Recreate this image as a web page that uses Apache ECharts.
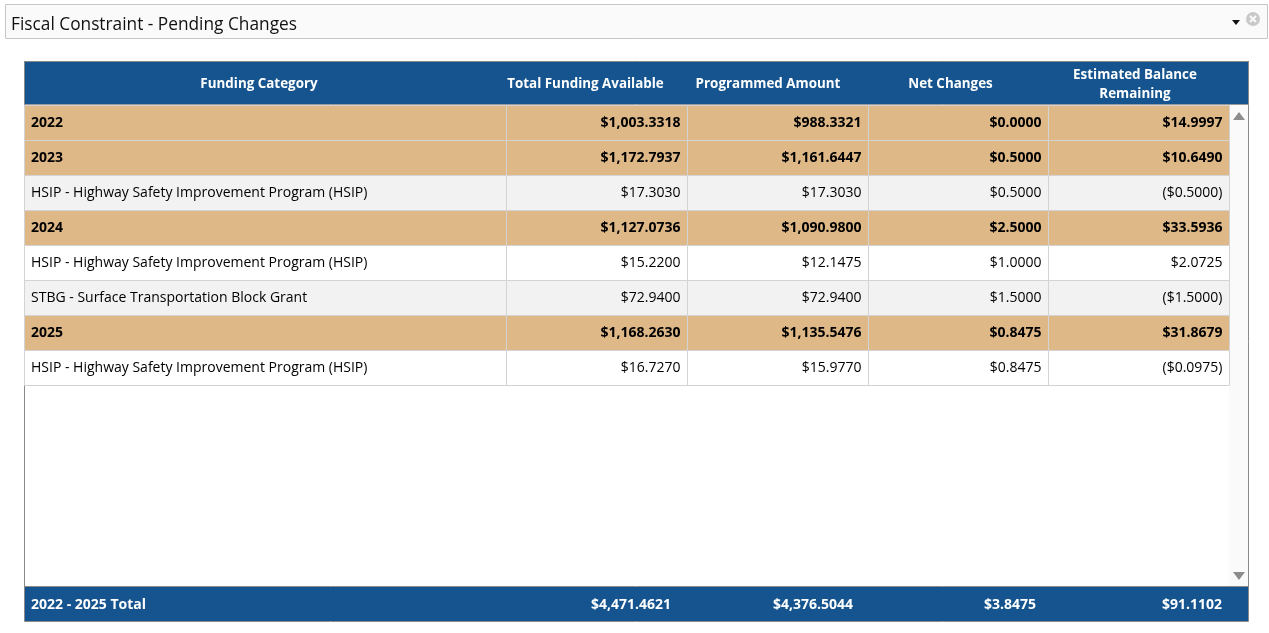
<!DOCTYPE html>
<html lang="en">
<head>
    <meta charset="UTF-8">
    <title>Fiscal Constraint - Pending Changes</title>
    <script src="https://cdn.jsdelivr.net/npm/echarts/dist/echarts.min.js"></script>
    <style>
        html, body {
            margin: 0;
            padding: 0;
            background: #ffffff;
        }
        #chart {
            width: 1269px;
            height: 633px;
        }
    </style>
</head>
<body>
    <div id="chart"></div>

    <script>
        // table data
        const columns = ['Funding Category', 'Total Funding Available', 'Programmed Amount', 'Net Changes', 'Estimated Balance\nRemaining'];
        const rowLabels = [
            '2022',
            '2023',
            'HSIP - Highway Safety Improvement Program (HSIP)',
            '2024',
            'HSIP - Highway Safety Improvement Program (HSIP)',
            'STBG - Surface Transportation Block Grant',
            '2025',
            'HSIP - Highway Safety Improvement Program (HSIP)'
        ];
        const rowIsYear = [true, true, false, true, false, false, true, false];
        const totalAvailable = [1003.3318, 1172.7937, 17.3030, 1127.0736, 15.2200, 72.9400, 1168.2630, 16.7270];
        const programmed = [988.3321, 1161.6447, 17.3030, 1090.9800, 12.1475, 72.9400, 1135.5476, 15.9770];
        const netChanges = [0.0000, 0.5000, 0.5000, 2.5000, 1.0000, 1.5000, 0.8475, 0.8475];
        const balance = [14.9997, 10.6490, -0.5000, 33.5936, 2.0725, -1.5000, 31.8679, -0.0975];
        const totalLabel = '2022 - 2025 Total';
        const totals = [4471.4621, 4376.5044, 3.8475, 91.1102];

        // layout (pixels)
        const bodyEdges = [0, 482, 663, 844, 1024, 1205];   // relative to table left
        const headEdges = [24, 494, 677, 859, 1042, 1228];
        const FONT = '"Open Sans", "Noto Sans", sans-serif';
        const BLUE = '#15548e';
        const TAN = '#deb887';

        function money(v) {
            const s = Math.abs(v).toLocaleString('en-US', { minimumFractionDigits: 4, maximumFractionDigits: 4 });
            return v < 0 ? '($' + s + ')' : '$' + s;
        }

        const valueCols = [totalAvailable, programmed, netChanges, balance];

        // row background: year rows tan, detail rows alternate grey / white
        const rowFill = [];
        let detailCount = 0;
        rowIsYear.forEach(isYear => {
            if (isYear) {
                rowFill.push(TAN);
            } else {
                rowFill.push(detailCount % 2 === 0 ? '#f2f2f2' : '#ffffff');
                detailCount++;
            }
        });

        const cells = [];
        rowLabels.forEach((label, r) => {
            cells.push([0, r, label]);
            valueCols.forEach((arr, i) => cells.push([i + 1, r, money(arr[r])]));
        });

        const chart = echarts.init(document.getElementById('chart'));

        function renderCell(params, api) {
            const c = api.value(0);
            const r = api.value(1);
            const text = cells[params.dataIndex][2];
            const p0 = api.coord([bodyEdges[c], r]);
            const p1 = api.coord([bodyEdges[c + 1], r]);
            const h = api.size([0, 1])[1];
            const x0 = Math.round(p0[0]) + 0.5;
            const y0 = Math.round(p0[1] - h / 2) + 0.5;
            const w = Math.round(p1[0] - p0[0]);
            const bold = rowIsYear[r];
            return {
                type: 'group',
                children: [
                    {
                        type: 'rect',
                        shape: { x: x0, y: y0, width: w, height: Math.round(h) },
                        style: { fill: rowFill[r], stroke: '#d3d3d3', lineWidth: 1 }
                    },
                    {
                        type: 'text',
                        style: {
                            text: text,
                            x: c === 0 ? x0 + 6.5 : x0 + w - 7,
                            y: p0[1] + 1,
                            align: c === 0 ? 'left' : 'right',
                            verticalAlign: 'middle',
                            fontFamily: FONT,
                            fontSize: 14,
                            fontWeight: bold ? 'bold' : 'normal',
                            fill: '#000000'
                        }
                    }
                ]
            };
        }

        const graphics = [];

        // dropdown title box
        graphics.push({
            type: 'rect',
            shape: { x: 5.5, y: 4.5, width: 1262, height: 34 },
            style: { fill: '#fafafa', stroke: '#c6c6c6', lineWidth: 1 }
        });
        graphics.push({
            type: 'text',
            style: {
                text: 'Fiscal Constraint - Pending Changes',
                x: 11, y: 25.5, verticalAlign: 'middle',
                fontFamily: FONT, fontSize: 17.3, fill: '#111111'
            }
        });
        graphics.push({
            type: 'polygon',
            shape: { points: [[1232, 20], [1240, 20], [1236, 25]] },
            style: { fill: '#111111' }
        });
        graphics.push({
            type: 'circle',
            shape: { cx: 1253, cy: 19, r: 7 },
            style: { fill: '#c9c9c9' }
        });
        graphics.push({
            type: 'group',
            children: [
                { type: 'line', shape: { x1: 1250, y1: 16, x2: 1256, y2: 22 }, style: { stroke: '#fafafa', lineWidth: 2 } },
                { type: 'line', shape: { x1: 1256, y1: 16, x2: 1250, y2: 22 }, style: { stroke: '#fafafa', lineWidth: 2 } }
            ]
        });

        // header band
        graphics.push({
            type: 'rect',
            shape: { x: 24, y: 61, width: 1225, height: 43 },
            style: { fill: BLUE }
        });
        columns.forEach((name, i) => {
            graphics.push({
                type: 'text',
                style: {
                    text: name,
                    x: (headEdges[i] + headEdges[i + 1]) / 2,
                    y: 84.5,
                    align: 'center', verticalAlign: 'middle',
                    fontFamily: FONT, fontSize: 13.4, fontWeight: 'bold',
                    fill: '#ffffff', lineHeight: 19
                }
            });
        });

        // scrollbar track + arrows
        graphics.push({
            type: 'rect',
            shape: { x: 1229, y: 105, width: 20, height: 481 },
            style: { fill: '#fafafa' }
        });
        graphics.push({
            type: 'polygon',
            shape: { points: [[1233, 120], [1245, 120], [1239, 112]] },
            style: { fill: '#8c8c8c' }
        });
        graphics.push({
            type: 'polygon',
            shape: { points: [[1233, 572], [1245, 572], [1239, 580]] },
            style: { fill: '#8c8c8c' }
        });

        // footer band
        graphics.push({
            type: 'rect',
            shape: { x: 24, y: 587, width: 1225, height: 34 },
            style: { fill: BLUE }
        });
        graphics.push({
            type: 'text',
            style: {
                text: totalLabel, x: 31, y: 605, verticalAlign: 'middle',
                fontFamily: FONT, fontSize: 14, fontWeight: 'bold', fill: '#ffffff'
            }
        });
        totals.forEach((v, i) => {
            graphics.push({
                type: 'text',
                style: {
                    text: money(v), x: headEdges[i + 2] - 6, y: 605,
                    align: 'right', verticalAlign: 'middle',
                    fontFamily: FONT, fontSize: 14, fontWeight: 'bold', fill: '#ffffff'
                }
            });
        });

        // outer borders
        graphics.push({
            type: 'polyline',
            shape: { points: [[24.5, 621.5], [24.5, 61.5], [1248.5, 61.5], [1248.5, 621.5], [24.5, 621.5]] },
            style: { stroke: '#8a8a8a', lineWidth: 1, fill: null }
        });
        graphics.push({ type: 'line', shape: { x1: 24, y1: 104.5, x2: 1249, y2: 104.5 }, style: { stroke: '#9a9a9a', lineWidth: 1 } });
        graphics.push({ type: 'line', shape: { x1: 24, y1: 586.5, x2: 1249, y2: 586.5 }, style: { stroke: '#8a8a8a', lineWidth: 1 } });

        const option = {
            animation: false,
            grid: { left: 24, top: 105, width: 1205, height: 280 },
            xAxis: { type: 'value', min: 0, max: 1205, show: false },
            yAxis: {
                type: 'category', inverse: true, show: false,
                data: rowLabels.map((_, i) => i)
            },
            series: [{
                type: 'custom',
                renderItem: renderCell,
                data: cells.map(d => [d[0], d[1]]),
                silent: true,
                z: 2
            }],
            graphic: { elements: graphics }
        };
        chart.setOption(option);
    </script>
</body>
</html>
